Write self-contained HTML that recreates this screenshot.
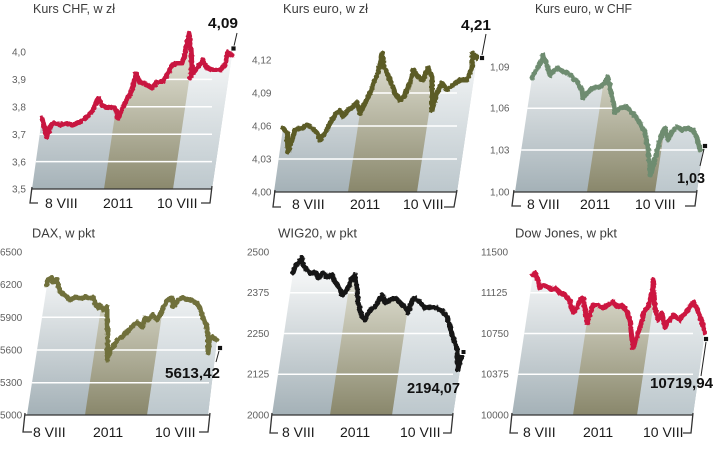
<!DOCTYPE html>
<html><head><meta charset="utf-8"><style>
html,body{margin:0;padding:0;background:#fff;}
svg{display:block;}
.t{font-family:"Liberation Sans",sans-serif;font-size:13px;fill:#3c3c3c;}
.y{font-family:"Liberation Sans",sans-serif;font-size:10px;fill:#606060;}
.x{font-family:"Liberation Sans",sans-serif;font-size:14px;fill:#1a1a1a;}
.v{font-family:"Liberation Sans",sans-serif;font-size:15px;font-weight:bold;fill:#111;}
.ax{fill:none;stroke:#333;stroke-width:1.3;}
.gr{stroke:#fff;stroke-width:1.5;}
.ln{fill:none;stroke-width:5;stroke-linejoin:round;stroke-linecap:round;filter:url(#jag);}
</style></head><body>
<svg width="720" height="457" viewBox="0 0 720 457">
<defs>
<filter id="jag" filterUnits="userSpaceOnUse" x="0" y="0" width="720" height="457">
<feTurbulence type="fractalNoise" baseFrequency="0.35" numOctaves="1" seed="3" result="n"/>
<feDisplacementMap in="SourceGraphic" in2="n" scale="3.5" xChannelSelector="R" yChannelSelector="G"/>
</filter>
<linearGradient id="gL1" gradientUnits="userSpaceOnUse" x1="0" y1="30" x2="0" y2="192"><stop offset="0" stop-color="#ffffff"/><stop offset="1" stop-color="#a4b1b7"/></linearGradient>
<linearGradient id="gR1" gradientUnits="userSpaceOnUse" x1="0" y1="30" x2="0" y2="192"><stop offset="0" stop-color="#ffffff"/><stop offset="1" stop-color="#bcc7cc"/></linearGradient>
<linearGradient id="gB1" gradientUnits="userSpaceOnUse" x1="0" y1="30" x2="0" y2="192"><stop offset="0" stop-color="#f0f0e6"/><stop offset="1" stop-color="#89876b"/></linearGradient>
<linearGradient id="gL2" gradientUnits="userSpaceOnUse" x1="0" y1="255" x2="0" y2="415"><stop offset="0" stop-color="#ffffff"/><stop offset="1" stop-color="#a4b1b7"/></linearGradient>
<linearGradient id="gR2" gradientUnits="userSpaceOnUse" x1="0" y1="255" x2="0" y2="415"><stop offset="0" stop-color="#ffffff"/><stop offset="1" stop-color="#bcc7cc"/></linearGradient>
<linearGradient id="gB2" gradientUnits="userSpaceOnUse" x1="0" y1="255" x2="0" y2="415"><stop offset="0" stop-color="#f0f0e6"/><stop offset="1" stop-color="#89876b"/></linearGradient>
<clipPath id="c1"><polygon points="42,118 43,122 47,137 50,127 53,123 60,125 67,123 73,125 80,122 87,117 93,110 98,98 102,105 107,107 115,108 118,118 123,107 128,97 132,90 136,74 140,82 147,85 152,88 157,82 163,82 168,73 172,65 177,63 182,63 185,53 189,33 191,47 192,67 190,78 193,73 198,67 203,60 207,68 213,70 220,70 225,65 228,52 232,55 212,189 32,189"/></clipPath>
<clipPath id="c2"><polygon points="283,128 287,133 288,152 292,140 295,130 302,128 307,125 312,128 317,133 320,140 325,133 330,123 335,115 340,110 343,117 348,110 353,107 357,102 360,113 365,103 370,93 375,80 378,73 382,53 384,67 387,73 392,85 395,93 400,100 405,95 410,83 413,70 418,77 423,80 428,68 432,77 432,110 437,93 442,83 447,90 453,85 460,80 467,80 472,67 473,53 477,58 457,192 274,192"/></clipPath>
<clipPath id="c3"><polygon points="532,78 535,72 538,67 542,60 543,55 547,65 550,75 553,72 558,68 563,72 568,73 573,78 578,83 582,90 583,98 587,93 593,88 600,87 605,83 608,77 610,88 613,100 615,113 620,108 627,107 632,113 637,118 642,127 645,133 648,147 650,175 653,167 658,147 662,133 665,128 668,140 672,132 677,127 682,130 687,128 693,130 697,138 700,150 703,147 697,192 515,192"/></clipPath>
<clipPath id="c4"><polygon points="47,285 48,280 52,278 53,282 57,280 58,285 60,292 65,295 70,300 75,297 80,298 85,297 90,298 93,297 95,303 98,308 100,305 103,310 107,307 107,320 108,337 107,360 110,350 113,347 117,340 122,337 127,332 132,327 137,322 142,327 145,318 148,320 153,315 157,320 160,315 163,308 167,300 172,298 173,307 178,300 183,298 190,300 197,303 200,308 203,317 207,327 208,337 208,353 210,340 213,337 217,340 208,415 27,415"/></clipPath>
<clipPath id="c5"><polygon points="293,273 295,267 298,263 302,258 303,265 307,270 310,273 315,272 318,278 323,273 327,277 332,275 335,282 338,285 342,295 345,292 348,288 352,278 355,275 357,287 358,302 362,317 365,320 368,313 372,308 375,307 378,302 382,295 385,303 390,300 395,298 400,303 405,307 408,313 412,300 415,298 420,302 425,308 430,307 437,308 443,312 447,317 450,327 453,338 457,348 458,370 460,360 462,357 453,415 272,415"/></clipPath>
<clipPath id="c6"><polygon points="533,275 535,273 538,280 540,288 543,285 548,287 552,290 555,288 560,293 565,295 570,302 573,312 577,308 580,300 583,298 585,308 587,323 590,315 593,305 598,305 603,308 608,305 613,302 617,307 622,305 627,312 630,320 632,340 633,348 637,337 642,320 645,310 648,307 652,293 653,280 655,307 658,320 662,313 665,327 670,320 673,315 677,318 680,320 683,315 688,310 693,302 697,308 700,317 703,325 705,332 693,415 512,415"/></clipPath>
</defs>
<rect width="720" height="457" fill="#fff"/>

<!-- Panel 1 -->
<g clip-path="url(#c1)">
<rect x="0" y="0" width="260" height="200" fill="url(#gL1)"/>
<polygon points="173,189 300,189 300,0 201,0" fill="url(#gR1)"/>
<polygon points="104,189 173,189 201,0 132,0" fill="url(#gB1)"/>
<line class="gr" x1="20" y1="79.4" x2="212" y2="79.4"/>
<line class="gr" x1="20" y1="106.8" x2="212" y2="106.8"/>
<line class="gr" x1="20" y1="134.2" x2="212" y2="134.2"/>
<line class="gr" x1="20" y1="161.6" x2="212" y2="161.6"/>
</g>
<polyline class="ln" stroke="#c8143f" points="42,118 43,122 47,137 50,127 53,123 60,125 67,123 73,125 80,122 87,117 93,110 98,98 102,105 107,107 115,108 118,118 123,107 128,97 132,90 136,74 140,82 147,85 152,88 157,82 163,82 168,73 172,65 177,63 182,63 185,53 189,33 191,47 192,67 190,78 193,73 198,67 203,60 207,68 213,70 220,70 225,65 228,52 232,55"/>
<line class="ax" x1="32" y1="189" x2="212" y2="189"/>
<path class="ax" d="M32,187 L30,203 L38,203 M212,186 L210,203 L201,203"/>
<text class="t" x="33" y="13" textLength="82" lengthAdjust="spacingAndGlyphs">Kurs CHF, w zł</text>
<text class="y" x="12" y="55.5">4,0</text>
<text class="y" x="12" y="83">3,9</text>
<text class="y" x="12" y="110.5">3,8</text>
<text class="y" x="12" y="138">3,7</text>
<text class="y" x="12" y="165.5">3,6</text>
<text class="y" x="12" y="192.5">3,5</text>
<text class="x" x="45" y="208">8 VIII</text>
<text class="x" x="103" y="208">2011</text>
<text class="x" x="157" y="208">10 VIII</text>
<line x1="237" y1="33" x2="234" y2="46" stroke="#222" stroke-width="1"/>
<rect x="231" y="46" width="5" height="5" fill="#111" stroke="#fff" stroke-width="0.8"/>
<text class="v" x="208" y="28" textLength="30" lengthAdjust="spacingAndGlyphs">4,09</text>

<!-- Panel 2 -->
<g clip-path="url(#c2)">
<rect x="240" y="0" width="240" height="200" fill="url(#gL1)"/>
<polygon points="417,192 520,192 520,0 446,0" fill="url(#gR1)"/>
<polygon points="348,192 417,192 446,0 377,0" fill="url(#gB1)"/>
<line class="gr" x1="260" y1="93" x2="457" y2="93"/>
<line class="gr" x1="260" y1="126" x2="457" y2="126"/>
<line class="gr" x1="260" y1="159" x2="457" y2="159"/>
</g>
<polyline class="ln" stroke="#5b5b28" points="283,128 287,133 288,152 292,140 295,130 302,128 307,125 312,128 317,133 320,140 325,133 330,123 335,115 340,110 343,117 348,110 353,107 357,102 360,113 365,103 370,93 375,80 378,73 382,53 384,67 387,73 392,85 395,93 400,100 405,95 410,83 413,70 418,77 423,80 428,68 432,77 432,110 437,93 442,83 447,90 453,85 460,80 467,80 472,67 473,53 477,58"/>
<line class="ax" x1="274" y1="192" x2="457" y2="192"/>
<path class="ax" d="M275,190 L273,207 L281,207 M457,190 L454,207 L444,207"/>
<text class="t" x="283" y="13" textLength="85" lengthAdjust="spacingAndGlyphs">Kurs euro, w zł</text>
<text class="y" x="252" y="63.5">4,12</text>
<text class="y" x="252" y="96.5">4,09</text>
<text class="y" x="252" y="129.5">4,06</text>
<text class="y" x="252" y="162.5">4,03</text>
<text class="y" x="252" y="195.5">4,00</text>
<text class="x" x="292" y="209">8 VIII</text>
<text class="x" x="350" y="209">2011</text>
<text class="x" x="403" y="209">10 VIII</text>
<line x1="486" y1="34" x2="482" y2="55" stroke="#222" stroke-width="1"/>
<rect x="479.5" y="55.5" width="5" height="5" fill="#111" stroke="#fff" stroke-width="0.8"/>
<text class="v" x="461" y="30" textLength="30" lengthAdjust="spacingAndGlyphs">4,21</text>

<!-- Panel 3 -->
<g clip-path="url(#c3)">
<rect x="480" y="0" width="240" height="200" fill="url(#gL1)"/>
<polygon points="655,192 720,192 720,0 684,0" fill="url(#gR1)"/>
<polygon points="587,192 655,192 684,0 616,0" fill="url(#gB1)"/>
<line class="gr" x1="500" y1="108.3" x2="697" y2="108.3"/>
<line class="gr" x1="500" y1="150" x2="697" y2="150"/>
</g>
<polyline class="ln" stroke="#6e8c70" points="532,78 535,72 538,67 542,60 543,55 547,65 550,75 553,72 558,68 563,72 568,73 573,78 578,83 582,90 583,98 587,93 593,88 600,87 605,83 608,77 610,88 613,100 615,113 620,108 627,107 632,113 637,118 642,127 645,133 648,147 650,175 653,167 658,147 662,133 665,128 668,140 672,132 677,127 682,130 687,128 693,130 697,138 700,150 703,147"/>
<line class="ax" x1="513" y1="192" x2="697" y2="192"/>
<path class="ax" d="M514,190 L512,206 L521,206 M697,190 L695,206 L685,206"/>
<text class="t" x="535" y="13" textLength="97" lengthAdjust="spacingAndGlyphs">Kurs euro, w CHF</text>
<text class="y" x="490" y="70.5">1,09</text>
<text class="y" x="490" y="111.5">1,06</text>
<text class="y" x="490" y="153.5">1,03</text>
<text class="y" x="490" y="195.5">1,00</text>
<text class="x" x="527" y="209">8 VIII</text>
<text class="x" x="580" y="209">2011</text>
<text class="x" x="635" y="209">10 VIII</text>
<line x1="704" y1="149" x2="700" y2="166" stroke="#222" stroke-width="1"/>
<rect x="702.5" y="143.5" width="5" height="5" fill="#111" stroke="#fff" stroke-width="0.8"/>
<text class="v" x="677" y="183" textLength="28" lengthAdjust="spacingAndGlyphs">1,03</text>

<!-- Panel 4 -->
<g clip-path="url(#c4)">
<rect x="0" y="220" width="260" height="200" fill="url(#gL2)"/>
<polygon points="147,415 260,415 260,220 176,220" fill="url(#gR2)"/>
<polygon points="85,415 147,415 176,220 114,220" fill="url(#gB2)"/>
<line class="gr" x1="10" y1="317.3" x2="209" y2="317.3"/>
<line class="gr" x1="10" y1="350" x2="209" y2="350"/>
<line class="gr" x1="10" y1="382.7" x2="209" y2="382.7"/>
</g>
<polyline class="ln" stroke="#70703a" points="47,285 48,280 52,278 53,282 57,280 58,285 60,292 65,295 70,300 75,297 80,298 85,297 90,298 93,297 95,303 98,308 100,305 103,310 107,307 107,320 108,337 107,360 110,350 113,347 117,340 122,337 127,332 132,327 137,322 142,327 145,318 148,320 153,315 157,320 160,315 163,308 167,300 172,298 173,307 178,300 183,298 190,300 197,303 200,308 203,317 207,327 208,337 208,353 210,340 213,337 217,340"/>
<line class="ax" x1="25" y1="415" x2="210" y2="415"/>
<path class="ax" d="M25,413 L23,432 L32,432 M210,413 L208,432 L199,432"/>
<text class="t" x="32" y="237.5" textLength="63" lengthAdjust="spacingAndGlyphs">DAX, w pkt</text>
<text class="y" x="0" y="255.5">6500</text>
<text class="y" x="0" y="288">6200</text>
<text class="y" x="0" y="320.8">5900</text>
<text class="y" x="0" y="353.5">5600</text>
<text class="y" x="0" y="386.2">5300</text>
<text class="y" x="0" y="418.5">5000</text>
<text class="x" x="33" y="437">8 VIII</text>
<text class="x" x="93" y="437">2011</text>
<text class="x" x="155" y="437">10 VIII</text>
<line x1="219" y1="351" x2="216" y2="362" stroke="#222" stroke-width="1"/>
<rect x="217.5" y="345.5" width="5" height="5" fill="#111" stroke="#fff" stroke-width="0.8"/>
<text class="v" x="165" y="378" textLength="55" lengthAdjust="spacingAndGlyphs">5613,42</text>

<!-- Panel 5 -->
<g clip-path="url(#c5)">
<rect x="240" y="220" width="240" height="200" fill="url(#gL2)"/>
<polygon points="392,415 480,415 480,220 421,220" fill="url(#gR2)"/>
<polygon points="330,415 392,415 421,220 359,220" fill="url(#gB2)"/>
<line class="gr" x1="250" y1="292.75" x2="453" y2="292.75"/>
<line class="gr" x1="250" y1="333.5" x2="453" y2="333.5"/>
<line class="gr" x1="250" y1="374.25" x2="453" y2="374.25"/>
</g>
<polyline class="ln" stroke="#151515" points="293,273 295,267 298,263 302,258 303,265 307,270 310,273 315,272 318,278 323,273 327,277 332,275 335,282 338,285 342,295 345,292 348,288 352,278 355,275 357,287 358,302 362,317 365,320 368,313 372,308 375,307 378,302 382,295 385,303 390,300 395,298 400,303 405,307 408,313 412,300 415,298 420,302 425,308 430,307 437,308 443,312 447,317 450,327 453,338 457,348 458,370 460,360 462,357"/>
<line class="ax" x1="272" y1="415" x2="453" y2="415"/>
<path class="ax" d="M272,413 L270,433 L278,433 M453,413 L451,433 L443,433"/>
<text class="t" x="278" y="237.5" textLength="79" lengthAdjust="spacingAndGlyphs">WIG20, w pkt</text>
<text class="y" x="247" y="255.5">2500</text>
<text class="y" x="247" y="296.2">2375</text>
<text class="y" x="247" y="337">2250</text>
<text class="y" x="247" y="377.7">2125</text>
<text class="y" x="247" y="418.5">2000</text>
<text class="x" x="282" y="437">8 VIII</text>
<text class="x" x="340" y="437">2011</text>
<text class="x" x="400" y="437">10 VIII</text>
<rect x="461" y="349.5" width="5" height="5" fill="#111" stroke="#fff" stroke-width="1"/>
<text class="v" x="407" y="393" textLength="53" lengthAdjust="spacingAndGlyphs">2194,07</text>

<!-- Panel 6 -->
<g clip-path="url(#c6)">
<rect x="480" y="220" width="240" height="200" fill="url(#gL2)"/>
<polygon points="637,415 720,415 720,220 666,220" fill="url(#gR2)"/>
<polygon points="573,415 637,415 666,220 602,220" fill="url(#gB2)"/>
<line class="gr" x1="490" y1="292.75" x2="693" y2="292.75"/>
<line class="gr" x1="490" y1="333.5" x2="693" y2="333.5"/>
<line class="gr" x1="490" y1="374.25" x2="693" y2="374.25"/>
</g>
<polyline class="ln" stroke="#cc1440" points="533,275 535,273 538,280 540,288 543,285 548,287 552,290 555,288 560,293 565,295 570,302 573,312 577,308 580,300 583,298 585,308 587,323 590,315 593,305 598,305 603,308 608,305 613,302 617,307 622,305 627,312 630,320 632,340 633,348 637,337 642,320 645,310 648,307 652,293 653,280 655,307 658,320 662,313 665,327 670,320 673,315 677,318 680,320 683,315 688,310 693,302 697,308 700,317 703,325 705,332"/>
<line class="ax" x1="512" y1="415" x2="693" y2="415"/>
<path class="ax" d="M512,413 L510,433 L518,433 M693,413 L691,433 L683,433"/>
<text class="t" x="515" y="237.5" textLength="102" lengthAdjust="spacingAndGlyphs">Dow Jones, w pkt</text>
<text class="y" x="481" y="255.5">11500</text>
<text class="y" x="481" y="296.2">11125</text>
<text class="y" x="481" y="337">10750</text>
<text class="y" x="481" y="377.7">10375</text>
<text class="y" x="481" y="418.5">10000</text>
<text class="x" x="523" y="437">8 VIII</text>
<text class="x" x="583" y="437">2011</text>
<text class="x" x="643" y="437">10 VIII</text>
<line x1="706" y1="342" x2="701" y2="376" stroke="#222" stroke-width="1"/>
<rect x="703.5" y="336.5" width="5" height="5" fill="#111" stroke="#fff" stroke-width="0.8"/>
<text class="v" x="650" y="388" textLength="63" lengthAdjust="spacingAndGlyphs">10719,94</text>
</svg>
</body></html>
